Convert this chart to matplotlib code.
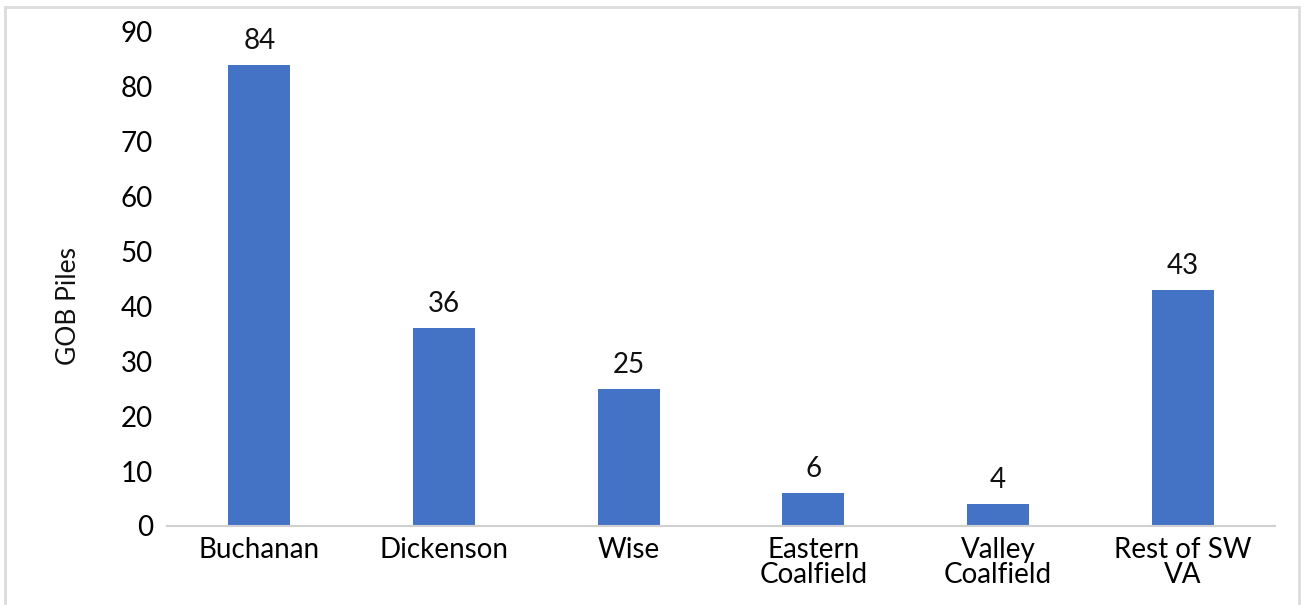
import matplotlib.pyplot as plt
from matplotlib.patches import Rectangle

categories = ["Buchanan", "Dickenson", "Wise", "Eastern\nCoalfield", "Valley\nCoalfield", "Rest of SW\nVA"]
gob_piles = [84, 36, 25, 6, 4, 43]
y_ticks = [0, 10, 20, 30, 40, 50, 60, 70, 80, 90]

plt.rcParams["font.family"] = ["Lato", "DejaVu Sans"]

fig = plt.figure(figsize=(13.04, 6.05), dpi=100)
ax = fig.add_axes([167 / 1304, 79 / 605, 1108 / 1304, 494 / 605])

x = range(len(categories))
bars = ax.bar(x, gob_piles, width=0.336, color="#4472c4", zorder=2)
for rect, val in zip(bars, gob_piles):
    ax.annotate(str(val), (rect.get_x() + rect.get_width() / 2, val),
                xytext=(0, 8), textcoords="offset points",
                ha="center", va="bottom", fontsize=20, color="#111111")

ax.set_xlim(-0.5, len(categories) - 0.5)
ax.set_ylim(0, 90)
ax.set_yticks(y_ticks)
ax.set_xticks(list(x))
ax.set_xticklabels(categories, fontsize=20, linespacing=0.95)
ax.tick_params(axis="y", labelsize=20, length=0, pad=10)
ax.tick_params(axis="x", length=0, pad=8)

for side in ["top", "right", "left"]:
    ax.spines[side].set_visible(False)
ax.spines["bottom"].set_color("#d0d0d0")
ax.spines["bottom"].set_linewidth(1.5)

fig.text(69 / 1304, 1 - 306 / 605, "GOB Piles", rotation=90,
         ha="center", va="center", fontsize=19, color="#111111")

# light frame around the chart area
fig.patches.append(Rectangle((5 / 1304, -0.05), 1294 / 1304, 1.05 - 7 / 605,
                             transform=fig.transFigure, fill=False,
                             edgecolor="#dcdcdc", linewidth=2))

fig.savefig("out.png", dpi=100)
